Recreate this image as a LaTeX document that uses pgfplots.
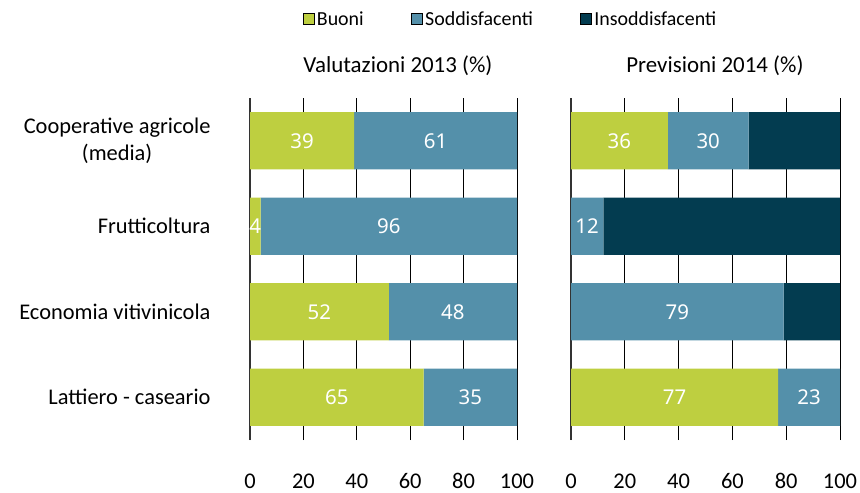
\documentclass[border=0pt]{standalone}
\usepackage{pgfplots}
\pgfplotsset{compat=1.18}
\usepackage{pgfplotstable}
\usepackage{fontspec}
\setmainfont{Carlito}
\newfontfamily\valfont{Noto Sans}
\definecolor{cgreen}{RGB}{190,207,64}
\definecolor{cblue}{RGB}{84,144,170}
\definecolor{cdark}{RGB}{3,60,80}

% y: 3 = Cooperative agricole (top) ... 0 = Lattiero-caseario (bottom)
\pgfplotstableread{
y g gl b bl
3 39 39 61 61
2 4 4 96 96
1 52 52 48 48
0 65 65 35 35
}\tabA

\pgfplotstableread{
y g gl b bl d
3 36 36 30 30 34
2 0 {} 12 12 88
1 0 {} 79 79 21
0 77 77 23 23 0
}\tabB

\pgfplotsset{
 panel/.style={
  scale only axis, xbar stacked, bar width=0.67, clip=false,
  xmin=0, xmax=100, ymin=-0.5, ymax=3.5,
  height=342bp,
  xtick={0,20,...,100}, ytick={0,1,2,3},
  xmajorgrids, grid style={black, line width=0.8bp},
  major tick length=0pt,
  axis lines*=left, x axis line style={draw=none},
  y axis line style={draw=black!80, line width=1.2bp, -},
  tick label style={font=\fontsize{22.5}{27}\selectfont},
  xticklabel style={yshift=-30bp},
  /pgf/number format/assume math mode=true,
  title style={font=\fontsize{23}{27}\selectfont, anchor=center},
  legend image code/.code={\fill[##1] (0bp,-5.5bp) rectangle (11bp,5.5bp);},
  every node near coord/.append style={anchor=center, text=white,
    font=\valfont\fontsize{20.5}{24}\selectfont},
 },
 seg/.style={draw=none, fill=#1, forget plot,
  nodes near coords, point meta=explicit symbolic},
 nolab/.style={draw=none, fill=#1, forget plot},
}

\begin{document}
\begin{tikzpicture}
\useasboundingbox (0,0) rectangle (860bp,493bp);
\begin{axis}[panel, at={(250bp,53bp)}, anchor=south west, width=267bp,
  yticklabels={Lattiero - caseario, Economia vitivinicola, Frutticoltura, {Cooperative agricole\\(media)}},
  yticklabel style={align=center, anchor=east, xshift=-36bp},
  title={Valutazioni 2013 (\%)}, title style={at={(0.554,1.076)}},
  legend style={at={(0.977,1.231)}, anchor=center, draw=none, fill=none,
    legend columns=3, font=\fontsize{20}{24}\selectfont,
    /tikz/every even column/.append style={column sep=45bp},
    nodes={inner sep=2.5bp}},
]
\addplot[seg=cgreen] table[x=g, y=y, meta=gl] {\tabA};
\addplot[seg=cblue] table[x=b, y=y, meta=bl] {\tabA};
\addlegendimage{fill=cgreen}\addlegendentry{Buoni}
\addlegendimage{fill=cblue}\addlegendentry{Soddisfacenti}
\addlegendimage{fill=cdark}\addlegendentry{Insoddisfacenti}
\end{axis}
\begin{axis}[panel, at={(571bp,53bp)}, anchor=south west, width=269bp,
  yticklabels={},
  title={Previsioni 2014 (\%)}, title style={at={(0.535,1.076)}},
]
\addplot[seg=cgreen] table[x=g, y=y, meta=gl] {\tabB};
\addplot[seg=cblue] table[x=b, y=y, meta=bl] {\tabB};
\addplot[nolab=cdark] table[x=d, y=y] {\tabB};
\end{axis}
\end{tikzpicture}
\end{document}
